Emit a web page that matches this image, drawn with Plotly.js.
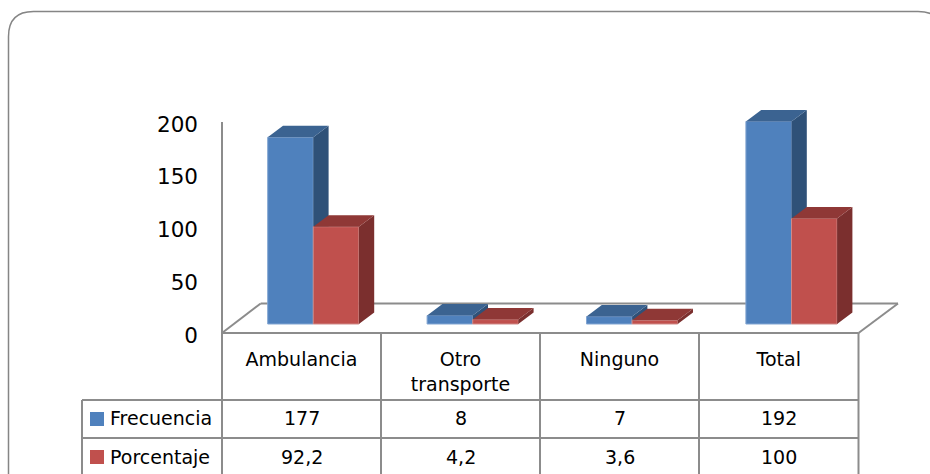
<!DOCTYPE html>
<html>
<head>
<meta charset="utf-8">
<script src="https://cdn.plot.ly/plotly-3.0.1.min.js"></script>
<style>html,body{margin:0;padding:0;background:#fff}</style>
</head>
<body>
<div id="chart" style="width:930px;height:474px"></div>
<script>
var categories = ["Ambulancia", "Otro<br>transporte", "Ninguno", "Total"];
var frecuencia = [177, 8, 7, 192];
var porcentaje = [92.2, 4.2, 3.6, 100];
var seriesNames = ["Frecuencia", "Porcentaje"];
var yTicks = [0, 50, 100, 150, 200];

var FONT = '"DejaVu Sans", sans-serif';
var L = 222, R = 898, T = 100, FLOOR = 333, W = 930, H = 474;
var PX_PER_UNIT = 1.055, PX_PER_CAT = 159.4, FIRST_CENTER = 313.3;
var barW = 45.6 / PX_PER_CAT;
var depthX = 15.3 / PX_PER_CAT, depthY = 11.5 / PX_PER_UNIT;
var base = 9 / PX_PER_UNIT;
var xIdx = categories.map(function (c, i) { return i; });
function dataX(px) { return (px - FIRST_CENTER) / PX_PER_CAT; }
function pX(px) { return (px - L) / (R - L); }
function pY(py) { return (FLOOR - py) / (FLOOR - T); }

var colX = [222, 381, 540, 699, 858.5];
var cellCenters = xIdx.map(function (i) { return dataX((colX[i] + colX[i + 1]) / 2); });

function faces(vals, x0off, kind) {
  var xs = [], ys = [];
  vals.forEach(function (v, i) {
    var x0 = i + x0off, x1 = x0 + barW, y1 = base + v;
    if (kind === "side") {
      xs.push(x1, x1 + depthX, x1 + depthX, x1, x1, null);
      ys.push(base, base + depthY, y1 + depthY, y1, base, null);
    } else {
      xs.push(x0, x1, x1 + depthX, x0 + depthX, x0, null);
      ys.push(y1, y1, y1 + depthY, y1 + depthY, y1, null);
    }
  });
  return { x: xs, y: ys };
}
function face(vals, off, kind, color, z) {
  var f = faces(vals, off, kind);
  return { type: "scatter", mode: "lines", x: f.x, y: f.y, fill: "toself", fillcolor: color,
    line: { width: 0, color: color }, hoverinfo: "skip", showlegend: false, zorder: z };
}
function bar(vals, off, name, color, edge, z) {
  return { type: "bar", name: name, x: xIdx, y: vals, base: base, width: barW, offset: off,
    marker: { color: color, line: { color: edge, width: 1 } }, showlegend: false, zorder: z };
}

var data = [
  face(frecuencia, -barW, "side", "#2F5178", 1),
  face(frecuencia, -barW, "top", "#3B6391", 1),
  bar(frecuencia, -barW, seriesNames[0], "#4F81BD", "#82A5D2", 1),
  face(porcentaje, 0, "side", "#7B2F2E", 2),
  face(porcentaje, 0, "top", "#8F3836", 2),
  bar(porcentaje, 0, seriesNames[1], "#C0504D", "#D08A88", 2)
];

var GRID = "#8C8C8C";
function ln(x0, y0, x1, y1) {
  return { type: "line", xref: "paper", yref: "paper", x0: pX(x0), x1: pX(x1), y0: pY(y0), y1: pY(y1),
    line: { color: GRID, width: 2 }, layer: "below" };
}
var shapes = [
  ln(222, 122, 222, 474),
  ln(222, 333, 858.5, 333),
  ln(222, 333, 260.7, 303.5),
  ln(260.7, 303.5, 898, 303.5),
  ln(898, 303.5, 858.5, 333),
  ln(381, 333, 381, 474),
  ln(540, 333, 540, 474),
  ln(699, 333, 699, 474),
  ln(858.5, 333, 858.5, 474),
  ln(82, 400, 858.5, 400),
  ln(82, 438, 858.5, 438),
  ln(82, 400, 82, 474)
];
var bl = 8.5, br = 943, bt = 11.5, r = 25;
shapes.push({
  type: "path", xref: "paper", yref: "paper", layer: "below", line: { color: "#858585", width: 1.5 },
  path: "M " + pX(bl) + " " + pY(474) + " L " + pX(bl) + " " + pY(bt + r) +
    " Q " + pX(bl) + " " + pY(bt) + " " + pX(bl + r) + " " + pY(bt) +
    " L " + pX(br - r) + " " + pY(bt) +
    " Q " + pX(br) + " " + pY(bt) + " " + pX(br) + " " + pY(bt + r)
});
[[412, "#4F81BD"], [450, "#C0504D"]].forEach(function (s) {
  shapes.push({ type: "rect", xref: "paper", yref: "paper", x0: pX(90), x1: pX(104),
    y0: pY(s[0]), y1: pY(s[0] + 14), fillcolor: s[1], line: { width: 0 } });
});

var annotations = [];
function note(text, x, xref, y, anchor) {
  annotations.push({ text: text, x: x, xref: xref, y: y, yref: "paper", xanchor: anchor, yanchor: "middle",
    showarrow: false, font: { family: FONT, size: 19, color: "#000" } });
}
var rowY = [418, 457];
[frecuencia, porcentaje].forEach(function (vals, r) {
  note(seriesNames[r], pX(108), "paper", pY(rowY[r]), "left");
  vals.forEach(function (v, i) {
    note(String(v).replace(".", ","), cellCenters[i], "x", pY(rowY[r]), "center");
  });
});

var layout = {
  width: W, height: H, autosize: false, showlegend: false,
  paper_bgcolor: "#fff", plot_bgcolor: "rgba(0,0,0,0)", hovermode: false,
  margin: { l: L, r: W - R, t: T, b: H - FLOOR, pad: 0 },
  barmode: "overlay",
  font: { family: FONT, color: "#000" },
  xaxis: {
    range: [dataX(L), dataX(R)], showgrid: false, zeroline: false, showline: false,
    tickmode: "array", tickvals: cellCenters, ticktext: categories, ticks: "",
    tickangle: 0, tickfont: { family: FONT, size: 19, color: "#000" }, ticklabelstandoff: 13
  },
  yaxis: {
    range: [0, (FLOOR - T) / PX_PER_UNIT], showgrid: false, zeroline: false, showline: false,
    tickmode: "array", tickvals: yTicks, ticks: "",
    tickfont: { family: FONT, size: 21.5, color: "#000" }, ticklabelstandoff: 23, ticklabelshift: 2
  },
  shapes: shapes, annotations: annotations
};
Plotly.newPlot("chart", data, layout, { displayModeBar: false, staticPlot: true });
</script>
</body>
</html>
